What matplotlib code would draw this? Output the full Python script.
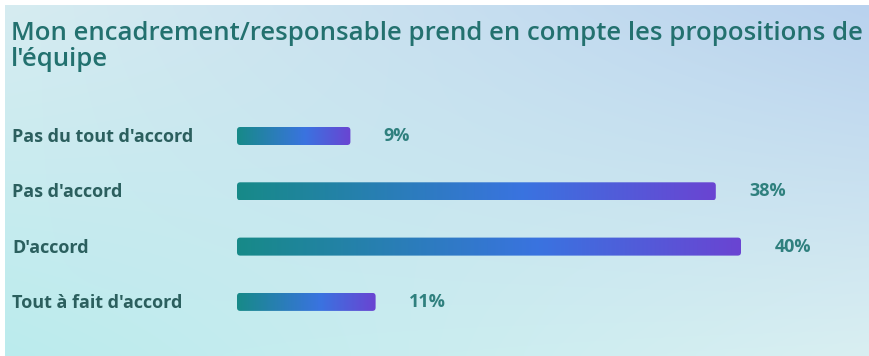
"""Horizontal gradient bars for a team survey question."""

import matplotlib.pyplot as plt
import numpy as np
from matplotlib.colors import LinearSegmentedColormap, to_rgb
from matplotlib.patches import FancyBboxPatch

TITLE_LINES = ["Mon encadrement/responsable prend en compte les propositions de",
               "l'équipe"]
categories = ["Pas du tout d'accord", "Pas d'accord", "D'accord", "Tout à fait d'accord"]
values = [9, 38, 40, 11]

W, H = 870, 356
fig = plt.figure(figsize=(W / 100, H / 100), dpi=100)
fig.patch.set_facecolor("white")

# soft four-corner background wash
bg = fig.add_axes([5 / W, 0, (W - 5) / W, (H - 5) / H])
corners = {
    "tl": np.array(to_rgb("#d6ecf1")),
    "tr": np.array(to_rgb("#b9d2ee")),
    "bl": np.array(to_rgb("#bbebed")),
    "br": np.array(to_rgb("#d9eff2")),
}
u = np.linspace(0, 1, 200)[None, :, None]
v = np.linspace(0, 1, 100)[:, None, None]
img = ((1 - v) * ((1 - u) * corners["tl"] + u * corners["tr"])
       + v * ((1 - u) * corners["bl"] + u * corners["br"]))
bg.imshow(img, aspect="auto", extent=(0, 1, 0, 1), interpolation="bicubic")
bg.set_axis_off()

# title, one baseline per line
for line, base in zip(TITLE_LINES, (40, 66)):
    fig.text(11 / W, 1 - base / H, line, ha="left", va="baseline",
             fontsize=18.5, color="#23716f", family="Open Sans",
             fontweight="semibold")

# bar area: x runs 0..50 (%), starting at pixel 237
x_px0, px_per_unit = 237, 12.6
row_px = 55.3
y_top_px = 136 - row_px / 2
ax = fig.add_axes([x_px0 / W, 1 - (y_top_px + 4 * row_px) / H,
                   50 * px_per_unit / W, 4 * row_px / H])
ax.set_xlim(0, 50)
ax.set_ylim(3.5, -0.5)
ax.set_axis_off()

bar_h = 18 / row_px
bar_cmap = LinearSegmentedColormap.from_list(
    "bar", [(0, "#178a88"), (0.6, "#3a73e0"), (1, "#6a44d2")])
grad = np.linspace(0, 1, 256)[None, :]

bars = ax.barh(range(len(values)), values, height=bar_h, alpha=0)
for bar, val in zip(bars, values):
    x0, y0 = bar.get_x(), bar.get_y()
    w, h = bar.get_width(), bar.get_height()
    clip = FancyBboxPatch((x0, y0), w, h,
                          boxstyle="round,pad=0,rounding_size=0.26",
                          mutation_aspect=px_per_unit / row_px,
                          facecolor="none", edgecolor="none")
    ax.add_patch(clip)
    im = ax.imshow(grad, cmap=bar_cmap, aspect="auto",
                   extent=(x0, x0 + w, y0 + h, y0), interpolation="bicubic")
    im.set_clip_path(clip)
    ax.annotate(f"{val}%", xy=(x0 + w, y0 + h / 2), xytext=(24, 0),
                textcoords="offset points", ha="left", va="center",
                fontsize=13, color="#2f807e", family="Open Sans",
                fontweight="bold")

ax.set_xlim(0, 50)
ax.set_ylim(3.5, -0.5)

for i, cat in enumerate(categories):
    fig.text(12 / W, 1 - (137 + i * row_px) / H, cat, ha="left", va="center",
             fontsize=13, color="#2b5f5e", family="Open Sans",
             fontweight="bold")

fig.savefig("out.png", dpi=100)
